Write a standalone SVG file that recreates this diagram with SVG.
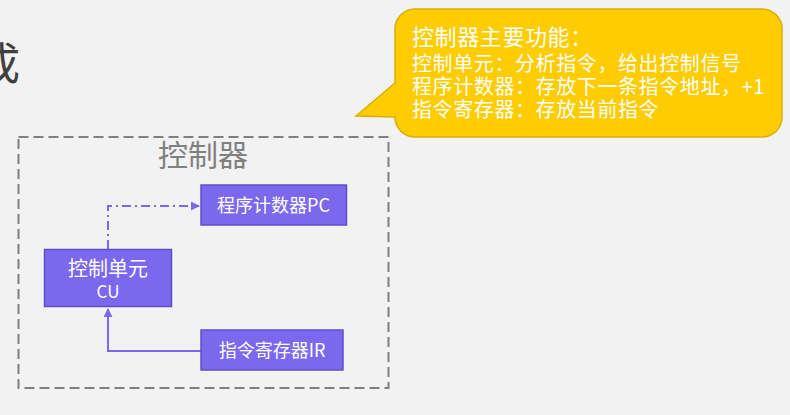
<svg xmlns="http://www.w3.org/2000/svg" width="790" height="415" viewBox="0 0 790 415">
<defs>
<style>
.cjk{font-family:"Noto Sans CJK SC","Liberation Sans",sans-serif;}
.node rect{fill:#7b68ee;stroke:#5e4fc8;stroke-width:1.5;}
.node text{fill:#ffffff;font-size:18px;text-anchor:middle;}
.conn{fill:none;stroke:#7b68ee;stroke-width:2;}
.callout text{fill:#ffffff;font-size:20px;letter-spacing:0.6px;}
</style>
<marker id="arr" viewBox="0 0 10 10" refX="9" refY="5" markerWidth="4.5" markerHeight="4.5" orient="auto" markerUnits="strokeWidth">
<path d="M0,0 L10,5 L0,10 z" fill="#7b68ee"/>
</marker>
</defs>
<rect width="790" height="415" fill="#f2f2f2"/>
<text class="cjk" x="-24" y="80" font-size="44" fill="#404040">成</text>
<g id="controller">
<rect x="18.5" y="137" width="370" height="251" fill="none" stroke="#7f7f7f" stroke-width="2" stroke-dasharray="10 5"/>
<text class="cjk" x="203" y="166" font-size="30" fill="#808080" text-anchor="middle">控制器</text>
</g>
<g id="connectors">
<path class="conn" d="M108,249 V206 H199" stroke-dasharray="9 4 2 4" marker-end="url(#arr)"/>
<path class="conn" d="M201,351 H108 V309" marker-end="url(#arr)"/>
</g>
<g id="pc" class="node cjk">
<rect x="201" y="185" width="145.5" height="40"/>
<text x="273.5" y="212">程序计数器PC</text>
</g>
<g id="cu" class="node cjk">
<rect x="44.5" y="249.5" width="127" height="57"/>
<text x="108" y="276" style="font-size:20px">控制单元</text>
<text x="108" y="298" style="font-size:17px">CU</text>
</g>
<g id="ir" class="node cjk">
<rect x="201" y="330" width="142" height="40"/>
<text x="272" y="357">指令寄存器IR</text>
</g>
<g id="callout" class="callout cjk">
<path d="M415,9 H762 A20,20 0 0 1 782,29 V117 A20,20 0 0 1 762,137 H415 A20,20 0 0 1 395,117 L356,116 L395,83 V29 A20,20 0 0 1 415,9 Z" fill="#ffcc00" stroke="#dcae00" stroke-width="1.5"/>
<text x="412" y="44.5" style="font-size:22px">控制器主要功能：</text>
<text x="412" y="71">控制单元：分析指令，给出控制信号</text>
<text x="412" y="94">程序计数器：存放下一条指令地址，+1</text>
<text x="412" y="116.5">指令寄存器：存放当前指令</text>
</g>
</svg>
